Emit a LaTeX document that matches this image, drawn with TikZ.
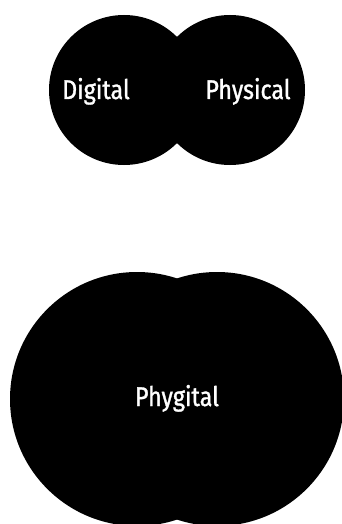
\documentclass[tikz,border=0pt]{standalone}
\usepackage{fontspec}
\setmainfont[FakeStretch=0.86,FakeBold=1.2]{Fira Sans}
\begin{document}
\begin{tikzpicture}[x=1pt,y=-1pt,
  blob/.style={circle, fill=black, draw=none, inner sep=0pt},
  lbl/.style={text=white, font=\fontsize{27}{31}\selectfont, anchor=base, inner sep=0pt}]
\useasboundingbox (0,0) rectangle (342,524);
\node[blob, minimum size=150pt] (dig) at (124,90) {};
\node[blob, minimum size=150pt] (phy) at (230,90) {};
\node[lbl] (tdig) at (96,99) {Digital};
\node[lbl] (tphy) at (248,99) {Physical};
\node[blob, minimum size=254pt] (l) at (137,399) {};
\node[blob, minimum size=254pt] (r) at (217,399) {};
\node[lbl] (tphyg) at (177,406) {Phygital};
\end{tikzpicture}
\end{document}
